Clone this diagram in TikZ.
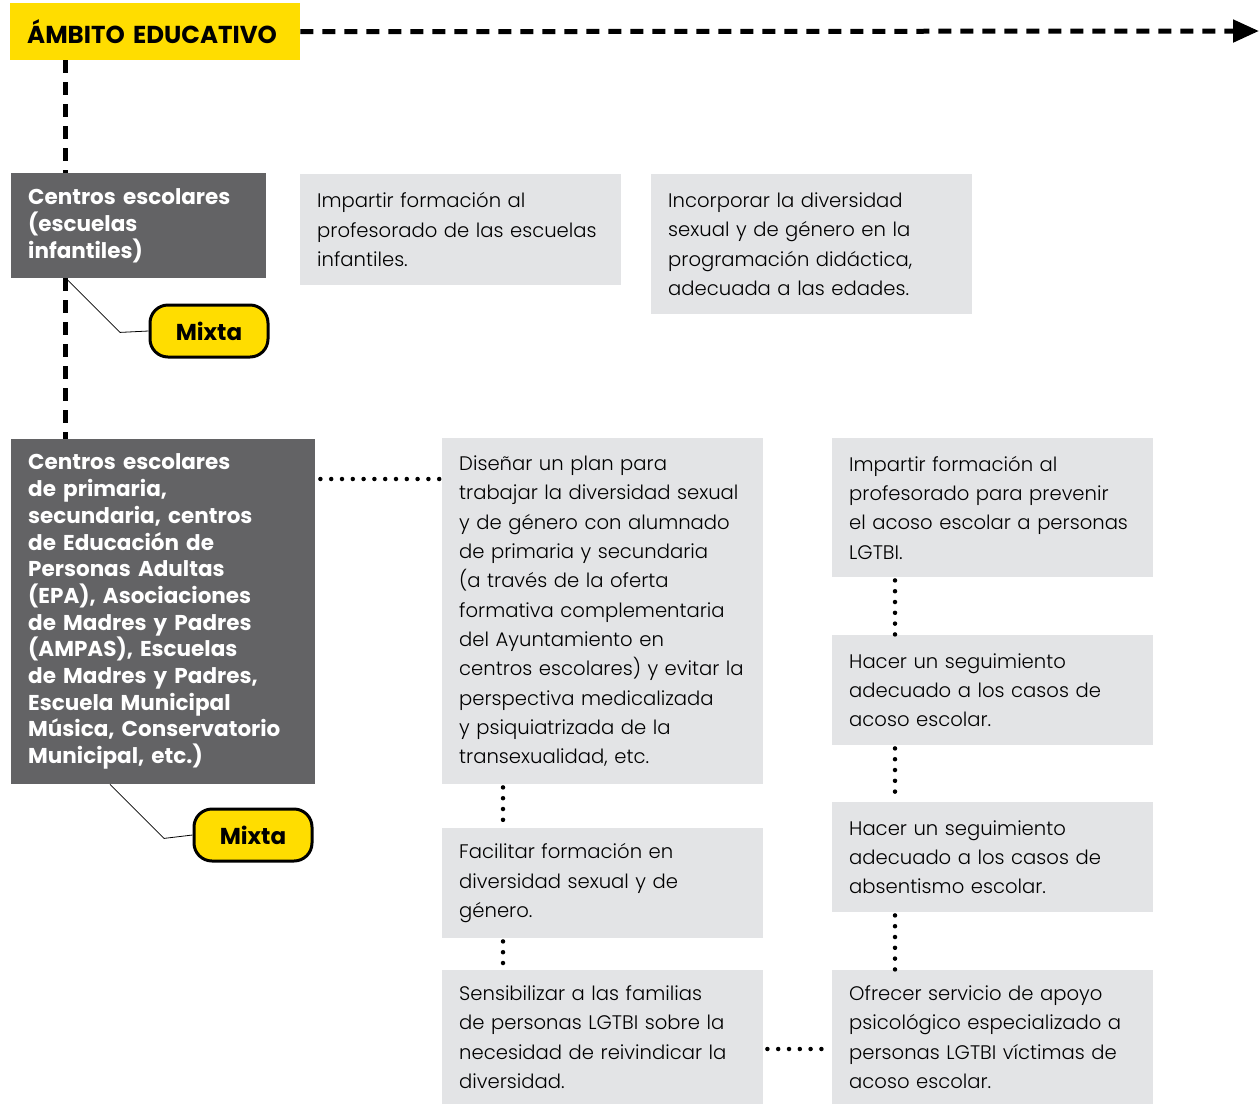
\documentclass[tikz,border=0pt]{standalone}
\usepackage{fontspec}
\setmainfont{Poppins Light}[BoldFont=Poppins Bold]
\usetikzlibrary{positioning, arrows.meta}
\definecolor{amarillo}{HTML}{FFDD00}
\definecolor{grisosc}{HTML}{636365}
\definecolor{grisclaro}{HTML}{E3E4E6}
\tikzset{
        x=1pt, y=-1pt, % pixel grid, y downwards
        titulo/.style={fill=amarillo, anchor=north west, text width=256pt, minimum height=57pt, inner xsep=17pt, align=left, font=\bfseries\fontsize{24.5}{28}\selectfont},
        centro/.style={fill=grisosc, text=white, anchor=north west, inner xsep=17pt, inner ysep=0pt, align=left, font=\bfseries\fontsize{21.5}{26.7}\selectfont},
        accion/.style={fill=grisclaro, anchor=north west, text width=287pt, inner xsep=17pt, inner ysep=0pt, align=left, font=\fontsize{19.6}{29.3}\selectfont},
        mixta/.style={fill=amarillo, draw=black, line width=3pt, rounded corners=18pt, minimum width=118pt, minimum height=52pt, font=\bfseries\fontsize{23}{26}\selectfont},
        eje/.style={line width=5pt, dash pattern=on 13pt off 9pt},
        puntos/.style={line width=4.5pt, line cap=round, dash pattern=on 0pt off 10.8pt},
        enlace/.style={line width=0.8pt},
        }
\begin{document}
\begin{tikzpicture}
        \useasboundingbox (0,0) rectangle (1259,1104);
        % ambito
        \node[titulo] (amb) at (10,3) {ÁMBITO EDUCATIVO};
        \coordinate (fin) at (1259,31);
        \draw[eje, -{Triangle[length=26pt, width=22pt]}] (amb.east) -- (fin);

        % centros
        \node[centro, text width=221pt, minimum height=105pt] (inf) at (11,173) {Centros escolares\\(escuelas\\infantiles)};
        \node[centro, text width=270pt, minimum height=345pt] (prim) at (11,439) {Centros escolares\\de primaria,\\secundaria, centros\\de Educación de\\Personas Adultas\\(EPA), Asociaciones\\de Madres y Padres\\(AMPAS), Escuelas\\de Madres y Padres,\\Escuela Municipal\\Música, Conservatorio\\Municipal, etc.)};
        \draw[eje] ([xshift=55pt]amb.south west) -- ([xshift=54pt]inf.north west);
        \draw[eje] ([xshift=54pt]inf.south west) -- ([xshift=54pt]prim.north west);

        \node[mixta] (mix1) at (209,331) {Mixta};
        \node[mixta] (mix2) at (253,835) {Mixta};
        \draw[enlace] ([xshift=55pt]inf.south west) -- ++(54,54) -- (mix1.west);
        \draw[enlace] ([xshift=99pt]prim.south west) -- ++(54,54) -- (mix2.west);

        % acciones
        \node[accion, minimum height=111pt] (a1) at (300,174) {Impartir formación al\\profesorado de las escuelas\\infantiles.};
        \node[accion, minimum height=140pt] (a2) at (651,174) {Incorporar la diversidad\\sexual y de género en la\\programación didáctica,\\adecuada a las edades.};
        \node[accion, minimum height=346pt] (p1) at (442,438) {Diseñar un plan para\\trabajar la diversidad sexual\\y de género con alumnado\\de primaria y secundaria\\(a través de la oferta\\formativa complementaria\\del Ayuntamiento en\\centros escolares) y evitar la\\perspectiva medicalizada\\y psiquiatrizada de la\\transexualidad, etc.};
        \node[accion, minimum height=110pt] (p2) at (442,828) {Facilitar formación en\\diversidad sexual y de\\género.};
        \node[accion, minimum height=134pt] (p3) at (442,970) {Sensibilizar a las familias\\de personas LGTBI sobre la\\necesidad de reivindicar la\\diversidad.};
        \node[accion, minimum height=139pt] (p4) at (832,438) {Impartir formación al\\profesorado para prevenir\\el acoso escolar a personas\\LGTBI.};
        \node[accion, minimum height=110pt] (p5) at (832,635) {Hacer un seguimiento\\adecuado a los casos de\\acoso escolar.};
        \node[accion, minimum height=110pt] (p6) at (832,802) {Hacer un seguimiento\\adecuado a los casos de\\absentismo escolar.};
        \node[accion, minimum height=134pt] (p7) at (832,970) {Ofrecer servicio de apoyo\\psicológico especializado a\\personas LGTBI víctimas de\\acoso escolar.};

        % punteados
        \draw[puntos] ([yshift=-40pt]prim.north east) ++(5,0) -- ([yshift=-41pt]p1.north west);
        \draw[puntos] ([xshift=61pt,yshift=-3pt]p1.south west) -- ([xshift=61pt]p2.north west);
        \draw[puntos] ([xshift=61pt,yshift=-3pt]p2.south west) -- ([xshift=61pt]p3.north west);
        \draw[puntos] ([xshift=63pt,yshift=-3pt]p4.south west) -- ([xshift=63pt]p5.north west);
        \draw[puntos] ([xshift=63pt,yshift=-3pt]p5.south west) -- ([xshift=63pt]p6.north west);
        \draw[puntos] ([xshift=63pt,yshift=-3pt]p6.south west) -- ([xshift=63pt]p7.north west);
        \draw[puntos] ([yshift=-79pt]p3.north east) ++(4,0) -- ([yshift=-79pt]p7.north west);
\end{tikzpicture}
\end{document}
